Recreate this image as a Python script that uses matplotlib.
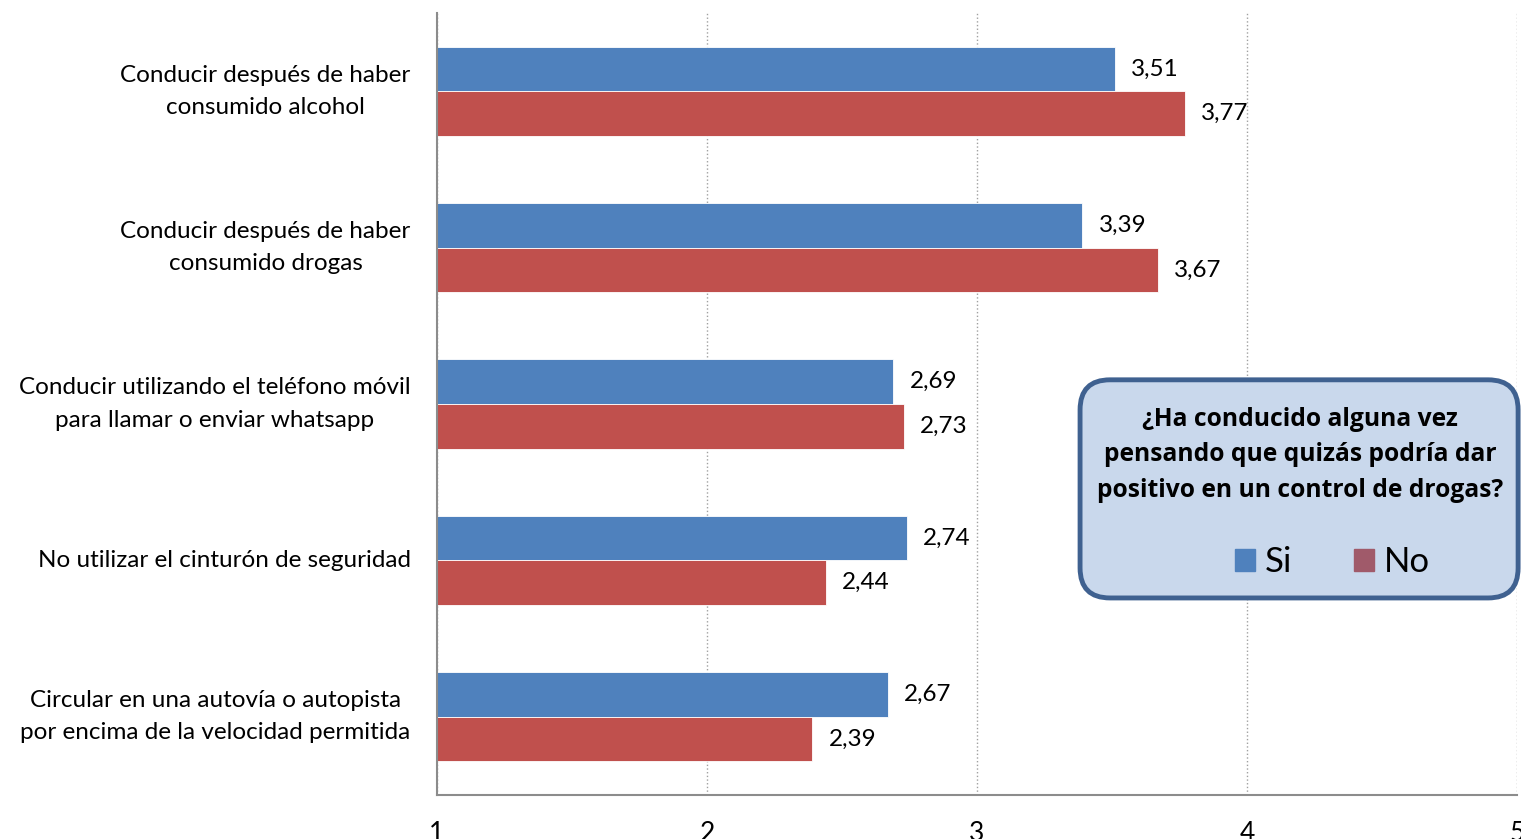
import numpy as np
import matplotlib.pyplot as plt
from matplotlib.patches import FancyBboxPatch, Patch

categorias = [
    "Conducir después de haber\nconsumido alcohol",
    "Conducir después de haber\nconsumido drogas",
    "Conducir utilizando el teléfono móvil\npara llamar o enviar whatsapp",
    "No utilizar el cinturón de seguridad",
    "Circular en una autovía o autopista\npor encima de la velocidad permitida",
]
si = [3.51, 3.39, 2.69, 2.74, 2.67]
no = [3.77, 3.67, 2.73, 2.44, 2.39]
ticks = [1, 2, 3, 4, 5]

plt.rcParams['font.family'] = ['Lato', 'DejaVu Sans']

azul = '#4F81BD'
rojo = '#C0504D'

fig = plt.figure(figsize=(15.21, 8.39), dpi=100)
ax = fig.add_axes([0.2873, 0.0524, 0.7101, 0.9321])

y = np.arange(len(categorias))
h = 0.285
ax.barh(y - h / 2, si, height=h, color=azul, edgecolor='white', linewidth=0.6)
ax.barh(y + h / 2, no, height=h, color=rojo, edgecolor='white', linewidth=0.6)

for yi, v in zip(y, si):
    ax.text(v + 0.06, yi - h / 2, f"{v:.2f}".replace('.', ','), va='center', ha='left', fontsize=17.5)
for yi, v in zip(y, no):
    ax.text(v + 0.06, yi + h / 2, f"{v:.2f}".replace('.', ','), va='center', ha='left', fontsize=17.5)

ax.set_xlim(1, 5)
ax.set_ylim(len(categorias) - 0.5, -0.5)
ax.set_xticks(ticks)
ax.set_xticklabels([str(t) for t in ticks], fontsize=19)
ax.set_yticks(y)
ax.set_yticklabels(categorias, fontsize=17.5, ha='right', va='center',
                   multialignment='center', linespacing=1.65)
ax.tick_params(axis='y', length=0, pad=19)
ax.tick_params(axis='x', length=0, pad=19)

ax.xaxis.grid(True, linestyle=':', color='#A0A0A0', linewidth=1.0)
ax.set_axisbelow(True)
for s in ['top', 'right']:
    ax.spines[s].set_visible(False)
ax.spines['left'].set_color('#8C8C8C')
ax.spines['bottom'].set_color('#8C8C8C')
ax.spines['left'].set_linewidth(1.5)
ax.spines['bottom'].set_linewidth(1.5)

# cuadro de la leyenda
caja = FancyBboxPatch((0.7101, 0.2873), 0.2880, 0.2600,
                      boxstyle="round,pad=0,rounding_size=0.0197",
                      transform=fig.transFigure, facecolor='#C9D8EC',
                      edgecolor='#3F6190', linewidth=3.5, zorder=5,
                      mutation_aspect=1521 / 839)
fig.patches.append(caja)
fig.text(0.8547, 0.4577, "¿Ha conducido alguna vez\npensando que quizás podría dar\npositivo en un control de drogas?",
         ha='center', va='center', fontsize=17.7, fontweight='bold', linespacing=1.55,
         family=['Open Sans', 'DejaVu Sans'], zorder=6)
handles = [Patch(color=azul, label='Si'), Patch(color='#A05A6A', label='No')]
leg = fig.legend(handles=handles, ncol=2, loc='center', bbox_to_anchor=(0.876, 0.330),
                 frameon=False, fontsize=25, handlelength=0.58, handleheight=0.58,
                 handletextpad=0.29, columnspacing=1.76)
leg.set_zorder(6)

fig.savefig('out.png', dpi=100)
